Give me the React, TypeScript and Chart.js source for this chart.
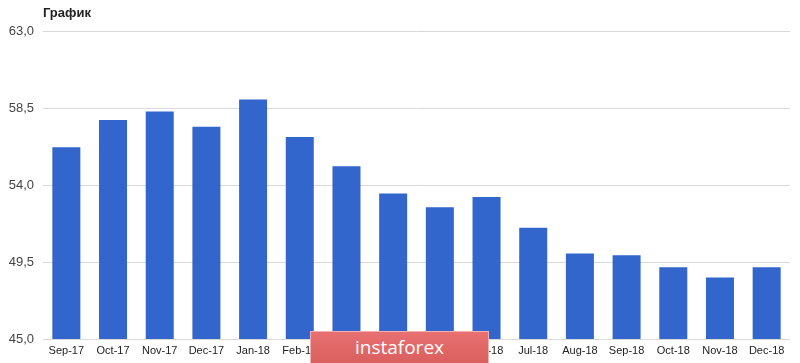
import React, { useEffect, useRef } from "react";
import { Chart, registerables } from "chart.js";

Chart.register(...registerables);

const categories = [
  "Sep-17", "Oct-17", "Nov-17", "Dec-17", "Jan-18", "Feb-18", "Mar-18", "Apr-18",
  "May-18", "Jun-18", "Jul-18", "Aug-18", "Sep-18", "Oct-18", "Nov-18", "Dec-18",
];
const values = [
  56.2, 57.8, 58.3, 57.4, 59.0, 56.8, 55.1, 53.5,
  52.7, 53.3, 51.5, 50.0, 49.9, 49.2, 48.6, 49.2,
];
const yTicks = [45, 49.5, 54, 58.5, 63];
const title = "График";
const watermark = "instaforex";

export default function App() {
  const ref = useRef<HTMLCanvasElement>(null);
  useEffect(() => {
    document.body.style.margin = "0";
    const ctx = ref.current!;
    const chart = new Chart(ctx, {
      type: "bar",
      data: {
        labels: categories,
        datasets: [
          {
            data: values,
            backgroundColor: "#3366cc",
            borderWidth: 0,
            barPercentage: 0.6,
            categoryPercentage: 1,
          },
        ],
      },
      options: {
        animation: false,
        responsive: false,
        maintainAspectRatio: false,
        layout: { padding: { top: 31, right: 10, left: 0, bottom: 0 } },
        plugins: { legend: { display: false }, tooltip: { enabled: false }, title: { display: false } },
        scales: {
          x: {
            grid: { display: false, drawTicks: false },
            border: { display: false },
            ticks: {
              color: "#222",
              font: { family: "Arial, 'Liberation Sans'", size: 11 },
              padding: 5,
              maxRotation: 0,
              autoSkip: false,
            },
            afterFit: (s: any) => { s.height = 24; },
          },
          y: {
            min: 45,
            max: 63,
            afterBuildTicks: (s: any) => { s.ticks = yTicks.map((v) => ({ value: v })); },
            grid: { color: "#d9d9d9", drawTicks: false, lineWidth: 1 },
            border: { display: false },
            ticks: {
              color: "#444",
              font: { family: "Arial, 'Liberation Sans'", size: 13 },
              padding: 9,
              callback: (v: any) => Number(v).toFixed(1).replace(".", ","),
            },
            afterFit: (s: any) => { s.width = 43; },
          },
        },
      },
    });
    return () => chart.destroy();
  }, []);
  return (
    <div style={{ position: "relative", width: 800, height: 363, background: "#fff", overflow: "hidden" }}>
      <canvas ref={ref} width={800} height={363} style={{ position: "absolute", left: 0, top: 0 }} />
      <div
        style={{
          position: "absolute",
          left: 43,
          top: 5,
          fontFamily: "Arial, 'Liberation Sans'",
          fontWeight: "bold",
          fontSize: 13,
          color: "#222",
        }}
      >
        {title}
      </div>
      <div
        style={{
          position: "absolute",
          left: 310,
          top: 331,
          width: 179,
          height: 34,
          background: "linear-gradient(#e97070, #d95f5f)",
          border: "1px solid #f2b0b0",
          boxSizing: "border-box",
          color: "#fff",
          fontFamily: "'Open Sans', Arial, sans-serif",
          fontSize: 19,
          lineHeight: "30px",
          textAlign: "center",
        }}
      >
        {watermark}
      </div>
    </div>
  );
}
